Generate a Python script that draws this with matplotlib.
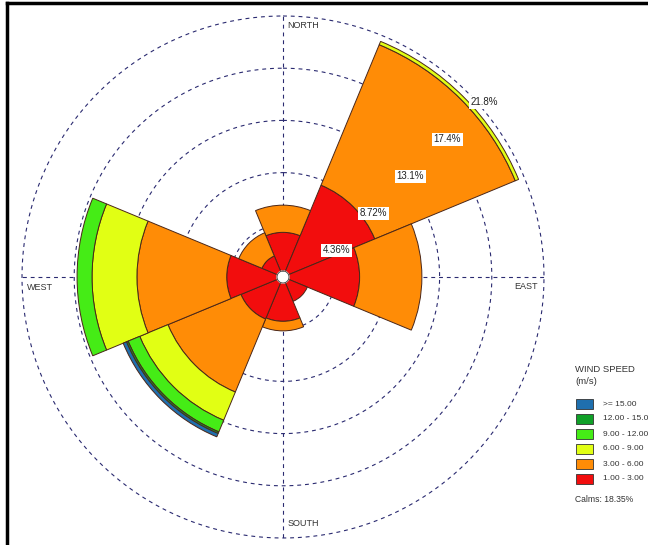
import matplotlib
matplotlib.use('Agg')
import matplotlib.pyplot as plt
import numpy as np
from matplotlib.lines import Line2D
from matplotlib.patches import Rectangle

plt.rcParams['font.family'] = ['Liberation Sans', 'DejaVu Sans']

# wind directions, clockwise from north
directions = ['N', 'NE', 'E', 'SE', 'S', 'SW', 'W', 'NW']
bearings = [0, 45, 90, 135, 180, 225, 270, 315]

# frequency (%) per speed class, per direction
freq_1_3 = [3.73, 8.3, 6.4, 2.2, 3.7, 3.8, 4.7, 1.9]
freq_3_6 = [2.27, 12.7, 5.2, 0.0, 0.8, 6.6, 7.5, 2.1]
freq_6_9 = [0.0, 0.3, 0.0, 0.0, 0.0, 2.55, 3.75, 0.0]
freq_9_12 = [0.0, 0.0, 0.0, 0.0, 0.0, 1.05, 1.25, 0.0]
freq_12_15 = [0.0, 0.0, 0.0, 0.0, 0.0, 0.15, 0.0, 0.0]
freq_15 = [0.0, 0.0, 0.0, 0.0, 0.0, 0.3, 0.0, 0.0]

speed_labels = ['1.00 - 3.00', '3.00 - 6.00', '6.00 - 9.00',
                '9.00 - 12.00', '12.00 - 15.00', '>= 15.00']
speed_colors = ['#f20d0d', '#ff8c06', '#e1ff14', '#45ec16', '#10a028', '#1f6fae']

ring_values = [4.36, 8.72, 13.08, 17.44, 21.8]
ring_labels = ['4.36%', '8.72%', '13.1%', '17.4%', '21.8%']
calms = 18.35

W, H = 648, 545
fig = plt.figure(figsize=(W / 100, H / 100), dpi=100)
cx, cy, R = 283, 277, 261
ax = fig.add_axes([(cx - R) / W, (H - cy - R) / H, 2 * R / W, 2 * R / H],
                  projection='polar')
ax.set_theta_zero_location('N')
ax.set_theta_direction(-1)
ax.set_ylim(0, ring_values[-1])
ax.grid(False)
ax.set_xticks([])
ax.set_yticks([])
ax.spines['polar'].set_visible(False)
ax.patch.set_alpha(0)

grid_col = '#2a2a70'
t = np.linspace(0, 2 * np.pi, 400)
for rv in ring_values:
    ax.plot(t, np.full_like(t, rv), color=grid_col, lw=0.8, dashes=(3.5, 3.5),
            zorder=1, clip_on=False)
for ang in [0, np.pi / 2, np.pi, 3 * np.pi / 2]:
    ax.plot([ang, ang], [0, ring_values[-1]], color=grid_col, lw=0.8, dashes=(3.5, 3.5),
            zorder=1, clip_on=False)

# stacked bars
layers = [freq_1_3, freq_3_6, freq_6_9, freq_9_12, freq_12_15, freq_15]
theta = np.deg2rad(bearings)
bottom = np.zeros(len(directions))
for vals, col in zip(layers, speed_colors):
    vals = np.array(vals)
    m = vals > 0
    ax.bar(theta[m], vals[m], width=np.pi / 4, bottom=bottom[m], color=col,
           edgecolor='#4a2618', lw=0.7, zorder=2)
    bottom = bottom + vals

# centre hole
ax.fill(t, np.full_like(t, 0.5), color='white', zorder=3)
ax.plot(t, np.full_like(t, 0.5), color='#333333', lw=0.6, zorder=3)

# ring labels
for rv, lab in zip(ring_values, ring_labels):
    ax.annotate(lab, (np.pi / 4, rv), xytext=(3, -10), textcoords='offset pixels',
                ha='left', va='center', fontsize=7, color='#222222', zorder=4,
                bbox=dict(boxstyle='square,pad=0.15', fc='white', ec='none'))

# compass labels
rmax = ring_values[-1]
dir_text = [('NORTH', 0, (4, -9), 'left'), ('EAST', np.pi / 2, (-6, -9), 'right'),
            ('SOUTH', np.pi, (5, 15), 'left'), ('WEST', 3 * np.pi / 2, (5, -10), 'left')]
for lab, ang, off, ha in dir_text:
    ax.annotate(lab, (ang, rmax), xytext=off, textcoords='offset pixels',
                ha=ha, va='center', fontsize=6.5, color='#333333', annotation_clip=False)

# legend
lx = 575
fig.text(lx / W, 1 - 370 / H, 'WIND SPEED', fontsize=6.8, color='#333333', va='center')
fig.text(lx / W, 1 - 382 / H, '(m/s)', fontsize=6.8, color='#333333', va='center')
rows = [404, 419, 434, 449, 464, 479]
for yy, lab, col in zip(rows, speed_labels[::-1], speed_colors[::-1]):
    fig.patches.append(Rectangle((576 / W, 1 - (yy + 5) / H), 17 / W, 10 / H,
                                 transform=fig.transFigure, fc=col, ec='#333333', lw=0.6))
    fig.text(603 / W, 1 - yy / H, lab, fontsize=6, color='#333333', va='center')
fig.text(lx / W, 1 - 500 / H, 'Calms: %.2f%%' % calms, fontsize=6.2, color='#333333', va='center')

# frame
fig.add_artist(Line2D([7 / W, 7 / W], [0, 1 - 3 / H], transform=fig.transFigure, color='black', lw=2.5))
fig.add_artist(Line2D([7 / W, 1], [1 - 3 / H, 1 - 3 / H], transform=fig.transFigure, color='black', lw=2.5))

fig.savefig('out.png', dpi=100)
